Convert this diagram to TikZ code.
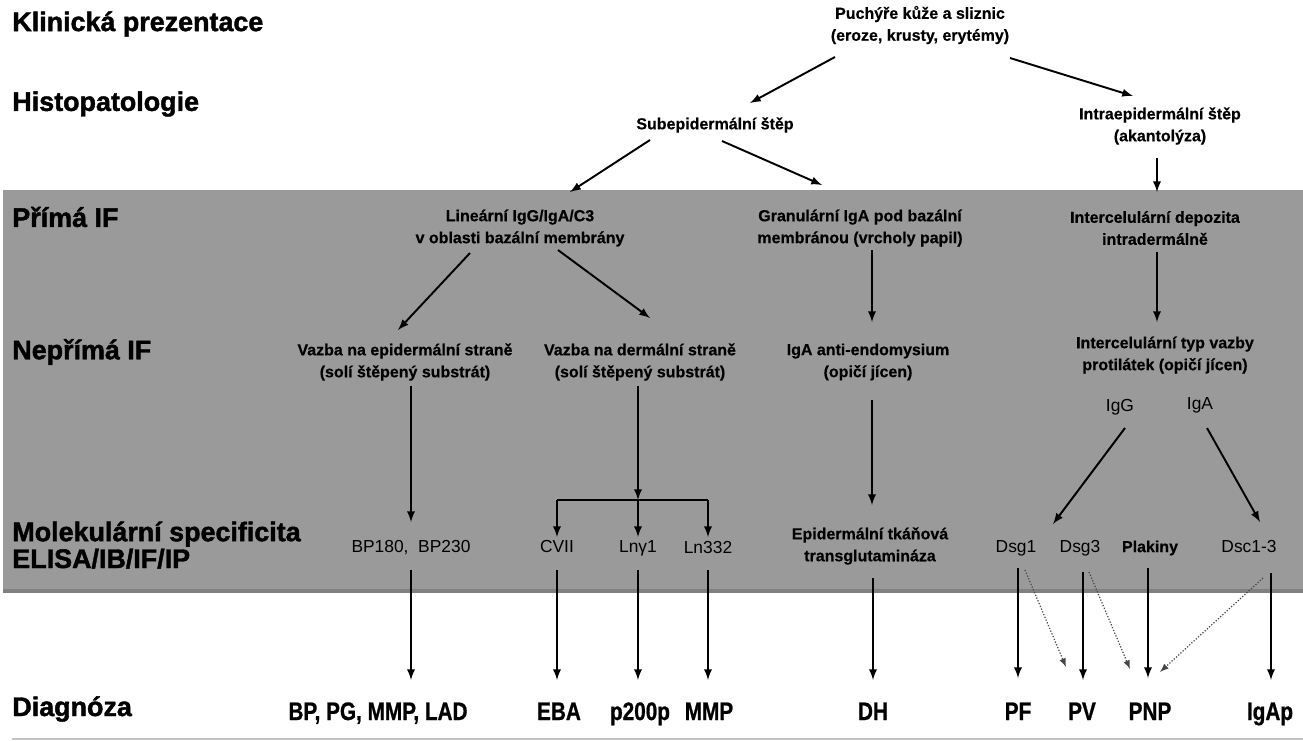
\documentclass[tikz,border=0pt]{standalone}
\usepackage{fontspec}
\setmainfont{Liberation Sans}
\newfontfamily\narrowfont{Liberation Sans}[FakeStretch=0.82, FakeBold=0.8]
\newfontfamily\heavyfont{Liberation Sans}[FakeBold=1.6]
\newfontfamily\semiheavyfont{Liberation Sans}[FakeBold=0.5]
\usepackage{tikz}
\definecolor{bandGray}{RGB}{154,154,154}
\definecolor{bandShadow}{RGB}{128,128,128}
\definecolor{ruleGray}{RGB}{195,195,195}
\definecolor{dotGray}{RGB}{70,70,70}
\tikzset{
    rowlabel/.style={anchor=west, inner sep=0pt, align=left, font=\fontsize{15.3}{13.6}\selectfont\heavyfont\bfseries},
    stage/.style={inner sep=0pt, align=center, font=\fontsize{9.1}{12.5}\selectfont\semiheavyfont\bfseries},
    molec/.style={anchor=base, inner sep=0pt, font=\fontsize{9.9}{12}\selectfont},
    diag/.style={anchor=base, inner sep=0pt, font=\fontsize{14.4}{16}\selectfont\narrowfont\bfseries},
    arr/.style={line width=1.1pt, -latex},
    dotarr/.style={line width=0.7pt, densely dotted, dotGray, -latex}
}

\begin{document}
\begin{tikzpicture}[x=0.02cm, y=-0.02cm]
        \useasboundingbox (0, 0) rectangle (1303, 741);

        \fill[bandGray]   (3, 190) rectangle (1303, 589);
        \fill[bandShadow] (3, 589) rectangle (1303, 593);
        \draw[ruleGray, line width=1pt] (12, 739) -- (1303, 739);

        \node[rowlabel] (lblKlin)    at (12,  24) {Klinická prezentace};
        \node[rowlabel] (lblHisto)   at (12, 104) {Histopatologie};
        \node[rowlabel] (lblPrima)   at (12, 217) {Přímá IF};
        \node[rowlabel] (lblNeprima) at (12, 352) {Nepřímá IF};
        \node[rowlabel] (lblMol)     at (12, 545) {Molekulární specificita\\ELISA/IB/IF/IP};
        \node[rowlabel] (lblDiag)    at (12, 709) {Diagnóza};

        \node[stage] (puchyre)    at ( 920,  25) {Puchýře kůže a sliznic\\(eroze, krusty, erytémy)};
        \node[stage] (subepi)     at ( 715, 125) {Subepidermální štěp};
        \node[stage] (intraepi)   at (1160, 126) {Intraepidermální štěp\\(akantolýza)};
        \node[stage] (linearni)   at ( 520, 228) {Lineární IgG/IgA/C3\\v oblasti bazální membrány};
        \node[stage] (granularni) at ( 860, 228) {Granulární IgA pod bazální\\membránou (vrcholy papil)};
        \node[stage] (depozita)   at (1155, 228) {Intercelulární depozita\\intradermálně};
        \node[stage] (vazbaEpi)   at ( 405, 362) {Vazba na epidermální straně\\(solí štěpený substrát)};
        \node[stage] (vazbaDerm)  at ( 640, 362) {Vazba na dermální straně\\(solí štěpený substrát)};
        \node[stage] (igaEndo)    at ( 868, 362) {IgA anti-endomysium\\(opičí jícen)};
        \node[stage] (typVazby)   at (1165, 355) {Intercelulární typ vazby\\protilátek (opičí jícen)};

        \node[molec] (igG) at (1120, 411) {IgG};
        \node[molec] (igA) at (1200, 409) {IgA};

        \node[molec] (bp)      at ( 411, 552) {BP180,\ \ BP230};
        \node[molec] (cvii)    at ( 557, 552) {CVII};
        \node[molec] (lng)     at ( 638, 552) {Lnγ1};
        \node[molec] (ln332)   at ( 708, 553) {Ln332};
        \node[stage] (tgase)   at ( 870, 546) {Epidermální tkáňová\\transglutamináza};
        \node[molec] (dsg1)    at (1016, 552) {Dsg1};
        \node[molec] (dsg3)    at (1080, 552) {Dsg3};
        \node[stage] (plakiny) at (1150, 548) {Plakiny};
        \node[molec] (dsc)     at (1249, 552) {Dsc1-3};

        \node[diag] (dBP)   at ( 378, 720) {BP, PG, MMP, LAD};
        \node[diag] (dEBA)  at ( 559, 720) {EBA};
        \node[diag] (dP200) at ( 640, 720) {p200p};
        \node[diag] (dMMP)  at ( 709, 720) {MMP};
        \node[diag] (dDH)   at ( 873, 720) {DH};
        \node[diag] (dPF)   at (1018, 720) {PF};
        \node[diag] (dPV)   at (1082, 720) {PV};
        \node[diag] (dPNP)  at (1150, 720) {PNP};
        \node[diag] (dIgAp) at (1270, 720) {IgAp};

        \coordinate (split) at (638, 500);

        \draw[arr] ([shift={(-85, 32)}]puchyre.center)  -- ([shift={( 35,-22)}]subepi.center);
        \draw[arr] ([shift={( 90, 33)}]puchyre.center)  -- ([shift={(-27,-30)}]intraepi.center);
        \draw[arr] ([shift={(-65, 15)}]subepi.center)   -- ([shift={( 50,-36)}]linearni.center);
        \draw[arr] ([shift={(  7, 16)}]subepi.center)   -- ([shift={(-38,-43)}]granularni.center);
        \draw[arr] ([shift={( -3, 32)}]intraepi.center) -- ([shift={(  2,-36)}]depozita.center);

        \draw[arr] ([shift={(-50, 25)}]linearni.center)   -- ([shift={( -7,-32)}]vazbaEpi.center);
        \draw[arr] ([shift={( 38, 22)}]linearni.center)   -- ([shift={( 10,-44)}]vazbaDerm.center);
        \draw[arr] ([shift={( 12, 22)}]granularni.center) -- ([shift={(  4,-40)}]igaEndo.center);
        \draw[arr] ([shift={(  2, 24)}]depozita.center)   -- ([shift={( -8,-33)}]typVazby.center);

        \draw[arr] ([shift={(  6, 24)}]vazbaEpi.center)  -- ([shift={(0,-30)}]bp.base);
        \draw[arr] ([shift={( -2, 24)}]vazbaDerm.center) -- (split);
        \draw[line width=1.1pt] ([shift={(0,-52)}]cvii.base) -- ([shift={(0,-53)}]ln332.base);
        \draw[arr] ([shift={(0,-52)}]cvii.base)  -- ([shift={(0,-15)}]cvii.base);
        \draw[arr] (split)                       -- ([shift={(0,-15)}]lng.base);
        \draw[arr] ([shift={(0,-53)}]ln332.base) -- ([shift={(0,-16)}]ln332.base);
        \draw[arr] ([shift={(  4, 38)}]igaEndo.center) -- ([shift={(2,-41)}]tgase.center);

        \draw[arr] ([shift={(  5, 17)}]igG.base) -- ([shift={(-27,-28)}]dsg3.base);
        \draw[arr] ([shift={(  7, 19)}]igA.base) -- ([shift={( 11,-30)}]dsc.base);

        \draw[arr] ([shift={(0, 18)}]bp.base)      -- ([shift={(33,-40)}]dBP.base);
        \draw[arr] ([shift={(0, 18)}]cvii.base)    -- ([shift={(-2,-40)}]dEBA.base);
        \draw[arr] ([shift={(0, 18)}]lng.base)     -- ([shift={(-2,-40)}]dP200.base);
        \draw[arr] ([shift={(0, 17)}]ln332.base)   -- ([shift={(-1,-40)}]dMMP.base);
        \draw[arr] ([shift={(3, 32)}]tgase.center) -- ([shift={( 0,-40)}]dDH.base);

        \draw[arr] ([shift={( 2, 16)}]dsg1.base)      -- ([shift={( 0,-42)}]dPF.base);
        \draw[arr] ([shift={( 3, 20)}]dsg3.base)      -- ([shift={( 1,-40)}]dPV.base);
        \draw[arr] ([shift={(-2, 20)}]plakiny.center) -- ([shift={(-2,-42)}]dPNP.base);
        \draw[arr] ([shift={(22, 21)}]dsc.base)       -- ([shift={( 1,-40)}]dIgAp.base);

        \draw[dotarr] ([shift={( 9, 18)}]dsg1.base) -- ([shift={(-16,-53)}]dPV.base);
        \draw[dotarr] ([shift={( 9, 20)}]dsg3.base) -- ([shift={(-20,-51)}]dPNP.base);
        \draw[dotarr] ([shift={(14, 26)}]dsc.base)  -- ([shift={( 10,-48)}]dPNP.base);
\end{tikzpicture}
\end{document}
